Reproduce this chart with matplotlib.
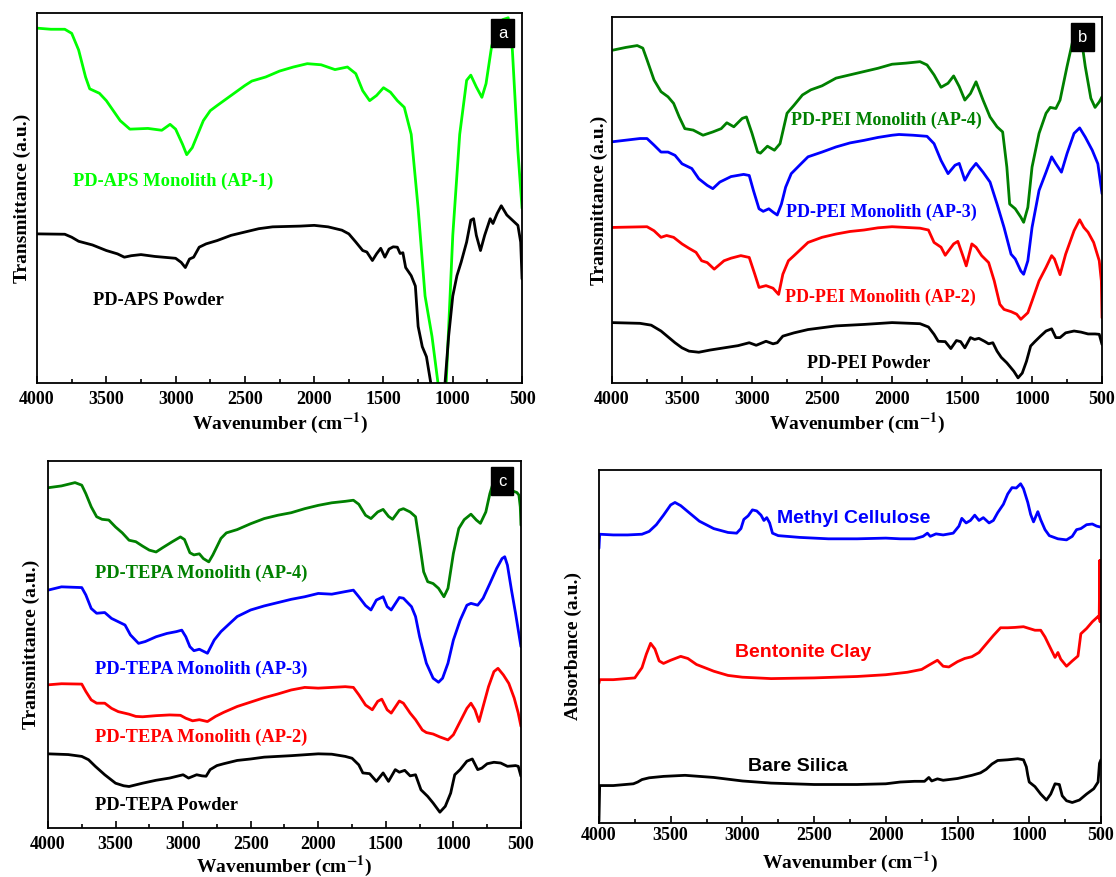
import matplotlib.pyplot as plt
from matplotlib.ticker import MultipleLocator

plt.rcParams['font.family'] = ['Liberation Serif', 'DejaVu Serif']
plt.rcParams['font.weight'] = 'bold'
plt.rcParams['mathtext.fontset'] = 'stix'
plt.rcParams['axes.linewidth'] = 1.3

# ---- panel a : PD-APS ----
a_mono_x = [4000, 3900, 3800, 3750, 3700, 3650, 3620, 3550, 3500, 3400, 3330, 3200, 3100, 3040,
            3000, 2950, 2920, 2880, 2800, 2750, 2700, 2600, 2500, 2450, 2350, 2250, 2150, 2050,
            1950, 1850, 1760, 1700, 1650, 1600, 1550, 1500, 1450, 1400, 1350, 1300, 1250, 1200,
            1150, 1100, 1080, 1050, 1000, 950, 900, 870, 830, 790, 760, 720, 680, 640, 600, 570,
            530, 500]
a_mono_y = [95.9, 95.6, 95.6, 94.5, 90.0, 82.7, 79.5, 78.3, 76.3, 70.9, 68.6, 68.8, 68.3, 69.9,
            68.6, 64.5, 61.7, 63.6, 70.9, 73.6, 75.0, 77.7, 80.4, 81.6, 82.7, 84.3, 85.4, 86.3,
            86.0, 84.7, 85.4, 83.6, 79.0, 76.3, 77.7, 79.8, 78.6, 76.3, 74.5, 67.2, 47.2, 23.5,
            12.6, -2, -8, -2, 39.9, 67.2, 81.8, 83.2, 80.0, 77.2, 80.9, 90.9, 96.4, 98.2, 98.7, 90.0,
            62.7, 47.2]
a_pow_x = [4000, 3800, 3750, 3700, 3600, 3500, 3420, 3370, 3320, 3250, 3150, 3000, 2960, 2930,
           2900, 2870, 2830, 2780, 2700, 2600, 2500, 2400, 2300, 2100, 2000, 1900, 1800, 1750,
           1700, 1650, 1620, 1580, 1550, 1520, 1490, 1460, 1430, 1400, 1380, 1360, 1340, 1300,
           1270, 1250, 1220, 1190, 1150, 1100, 1060, 1030, 1000, 970, 940, 900, 870, 850, 830,
           800, 770, 730, 710, 680, 650, 610, 570, 530, 510, 500]
a_pow_y = [40.3, 40.2, 39.4, 38.3, 37.3, 35.8, 34.9, 34.0, 34.4, 34.7, 34.2, 33.7, 32.6, 31.2,
           33.5, 34.0, 36.7, 37.6, 38.5, 39.9, 40.8, 41.7, 42.2, 42.4, 42.6, 42.2, 41.3, 40.3,
           38.1, 35.8, 35.4, 33.1, 34.9, 36.4, 34.0, 36.2, 36.8, 36.7, 35.0, 35.2, 31.2, 29.0,
           26.2, 15.3, 9.8, 7.1, -2, -10, -2, 12.6, 23.5, 29.0, 32.6, 38.1, 44.0, 44.4, 39.9,
           35.8, 39.9, 44.4, 43.1, 45.8, 47.9, 45.4, 44.0, 42.6, 38.1, 28.1]

# ---- panel b : PD-PEI ----
b4_x = [4000, 3900, 3820, 3780, 3750, 3700, 3650, 3600, 3560, 3520, 3480, 3420, 3350, 3280, 3220,
        3180, 3130, 3070, 3040, 3000, 2960, 2940, 2890, 2840, 2800, 2750, 2700, 2640, 2580, 2500,
        2400, 2300, 2200, 2100, 2000, 1900, 1800, 1750, 1700, 1650, 1600, 1560, 1520, 1480, 1440,
        1400, 1350, 1300, 1250, 1210, 1180, 1160, 1120, 1080, 1060, 1030, 1000, 950, 900, 870,
        830, 800, 750, 700, 680, 650, 620, 580, 550, 520, 500]
b4_y = [90.9, 91.7, 92.2, 91.5, 88.3, 82.8, 79.6, 78.2, 76.4, 72.7, 69.5, 69.1, 67.7, 68.6, 69.5,
        71.1, 70.0, 72.3, 72.7, 68.2, 63.1, 62.8, 64.7, 63.6, 65.4, 73.7, 75.9, 78.7, 80.1, 81.2,
        83.3, 84.2, 85.1, 86.0, 87.1, 87.4, 87.8, 86.9, 84.2, 80.8, 81.9, 83.9, 81.0, 77.3, 79.1,
        82.3, 77.3, 72.7, 70.0, 68.6, 59.0, 48.9, 47.6, 45.3, 43.9, 48.0, 59.0, 68.2, 73.7, 75.3,
        75.0, 77.3, 86.5, 95.1, 96.1, 94.7, 86.5, 77.8, 75.3, 76.8, 78.2]
b3_x = [4000, 3800, 3750, 3700, 3650, 3600, 3550, 3500, 3430, 3380, 3320, 3280, 3230, 3150, 3060,
        3020, 2990, 2950, 2920, 2880, 2850, 2820, 2790, 2760, 2720, 2650, 2600, 2500, 2400, 2300,
        2200, 2100, 2000, 1950, 1850, 1750, 1700, 1650, 1600, 1550, 1520, 1480, 1440, 1400, 1350,
        1300, 1250, 1200, 1150, 1120, 1080, 1060, 1030, 1000, 950, 900, 860, 830, 790, 750, 700,
        660, 620, 570, 530, 500]
b3_y = [65.9, 66.8, 66.8, 65.0, 63.1, 63.1, 62.2, 59.9, 58.6, 55.8, 54.0, 53.1, 54.9, 56.4, 57.0,
        56.7, 52.6, 47.6, 46.9, 47.6, 46.7, 45.9, 48.9, 53.5, 57.2, 59.9, 61.8, 63.1, 64.5, 65.6,
        66.3, 67.1, 67.7, 67.9, 67.7, 67.4, 65.4, 60.8, 57.2, 59.5, 60.0, 55.4, 58.1, 60.0, 57.6,
        54.9, 48.9, 42.5, 35.2, 33.9, 30.6, 29.7, 33.4, 42.5, 52.6, 57.6, 61.8, 59.9, 57.6, 62.7,
        68.2, 69.7, 67.2, 63.6, 59.9, 51.7]
b2_x = [4000, 3750, 3700, 3650, 3610, 3560, 3500, 3450, 3400, 3360, 3320, 3270, 3200, 3150, 3080,
        3020, 2980, 2950, 2900, 2850, 2810, 2780, 2740, 2700, 2600, 2500, 2400, 2300, 2200, 2100,
        2000, 1900, 1800, 1740, 1700, 1650, 1620, 1560, 1530, 1490, 1470, 1430, 1400, 1360, 1310,
        1270, 1230, 1200, 1150, 1110, 1080, 1030, 1000, 950, 900, 860, 840, 800, 760, 700, 660,
        630, 600, 560, 520, 505, 500]
b2_y = [42.5, 42.7, 41.6, 39.8, 40.3, 39.8, 38.0, 36.8, 35.7, 33.4, 32.9, 31.1, 33.4, 34.1, 34.8,
        34.3, 29.7, 26.1, 26.6, 25.9, 24.2, 29.7, 33.4, 34.8, 38.4, 39.8, 40.7, 41.4, 41.8, 42.4,
        42.7, 42.5, 42.3, 41.8, 38.4, 37.1, 34.9, 38.0, 38.7, 34.3, 32.0, 38.0, 37.1, 34.8, 32.9,
        27.9, 21.5, 20.1, 19.5, 18.8, 17.4, 19.2, 22.4, 27.9, 31.6, 34.8, 33.9, 29.6, 35.2, 41.6,
        44.6, 42.5, 41.2, 38.4, 33.4, 27.9, 17.8]
b_pow_x = [4000, 3800, 3720, 3650, 3550, 3500, 3450, 3380, 3300, 3200, 3100, 3020, 2970, 2900,
           2850, 2820, 2780, 2700, 2600, 2400, 2200, 2000, 1800, 1740, 1700, 1670, 1620, 1580,
           1540, 1510, 1480, 1440, 1410, 1380, 1340, 1310, 1280, 1250, 1220, 1180, 1130, 1100,
           1070, 1040, 1010, 980, 940, 900, 860, 830, 800, 760, 700, 650, 600, 550, 520, 500]
b_pow_y = [16.5, 16.3, 15.8, 14.2, 11.0, 9.6, 8.7, 8.4, 9.0, 9.6, 10.2, 11.0, 10.3, 11.4,
           10.7, 11.0, 12.8, 13.7, 14.6, 15.6, 16.0, 16.5, 16.2, 15.3, 13.3, 11.4, 11.3, 9.4,
           11.6, 11.3, 9.6, 12.4, 11.9, 12.2, 11.4, 10.7, 11.0, 8.7, 7.0, 5.5, 3.2, 1.4,
           2.7, 5.9, 10.1, 11.3, 12.8, 14.2, 14.8, 12.4, 12.4, 13.7, 14.2, 13.9, 13.4, 13.4, 13.3, 10.5]

# ---- panel c : PD-TEPA ----
c4_x = [4000, 3900, 3800, 3750, 3720, 3680, 3640, 3600, 3550, 3500, 3450, 3400, 3350, 3300, 3250,
        3200, 3150, 3080, 3020, 2990, 2950, 2920, 2880, 2850, 2810, 2780, 2720, 2680, 2600, 2500,
        2400, 2300, 2200, 2100, 2000, 1900, 1800, 1740, 1700, 1650, 1610, 1560, 1520, 1480, 1450,
        1400, 1370, 1320, 1280, 1250, 1220, 1190, 1150, 1110, 1070, 1040, 1000, 960, 920, 870,
        830, 800, 760, 730, 700, 650, 600, 560, 530, 515, 505, 500]
c4_y = [92.7, 93.2, 94.1, 93.4, 91.1, 87.5, 84.8, 84.1, 83.9, 82.0, 80.4, 78.4, 78.0, 76.8, 75.7,
        75.2, 76.4, 78.0, 79.3, 78.6, 75.0, 74.4, 74.7, 73.4, 72.5, 74.4, 78.9, 80.4, 81.3, 82.9,
        84.3, 85.2, 85.9, 87.0, 87.9, 88.6, 89.0, 89.3, 88.2, 85.2, 84.3, 86.1, 86.8, 84.9, 84.1,
        86.6, 87.0, 86.1, 84.8, 77.5, 69.8, 67.1, 66.6, 65.3, 63.0, 65.3, 74.8, 81.6, 84.0, 85.5,
        83.9, 83.0, 86.1, 91.1, 94.7, 97.0, 94.7, 91.8, 91.4, 90.7, 87.5, 82.5]
c3_x = [4000, 3900, 3750, 3720, 3680, 3640, 3580, 3530, 3480, 3430, 3390, 3330, 3280, 3200, 3120,
        3050, 3010, 2980, 2950, 2920, 2880, 2820, 2770, 2720, 2650, 2600, 2500, 2400, 2300, 2200,
        2100, 2000, 1900, 1800, 1740, 1700, 1650, 1610, 1570, 1520, 1490, 1460, 1400, 1370, 1310,
        1280, 1250, 1200, 1150, 1110, 1080, 1040, 1000, 950, 900, 870, 820, 780, 730, 680, 640,
        620, 600, 570, 540, 500]
c3_y = [64.8, 65.7, 65.5, 63.5, 59.8, 58.5, 58.7, 57.1, 56.2, 55.3, 52.6, 50.3, 50.8, 52.1, 53.0,
        53.5, 53.9, 52.1, 49.4, 48.3, 48.7, 47.6, 51.2, 53.5, 55.9, 57.6, 59.4, 60.5, 61.4, 62.3,
        63.0, 63.9, 63.7, 64.4, 64.8, 63.0, 60.6, 59.4, 62.1, 63.0, 60.3, 59.4, 62.8, 62.6, 60.3,
        57.6, 52.1, 44.9, 40.8, 39.7, 40.8, 44.9, 51.2, 56.6, 60.7, 61.2, 60.7, 62.6, 66.6, 70.7,
        73.4, 73.9, 71.6, 64.8, 58.5, 49.4]
c2_x = [4000, 3900, 3750, 3720, 3680, 3640, 3580, 3530, 3480, 3400, 3350, 3300, 3200, 3100, 3020,
        2980, 2930, 2880, 2820, 2760, 2700, 2600, 2500, 2400, 2300, 2200, 2100, 2000, 1900, 1800,
        1740, 1700, 1650, 1600, 1560, 1530, 1490, 1460, 1400, 1370, 1320, 1280, 1230, 1200, 1150,
        1100, 1040, 1000, 950, 900, 870, 840, 810, 780, 740, 700, 670, 630, 590, 550, 520, 500]
c2_y = [39.0, 39.3, 39.2, 37.2, 34.9, 34.0, 34.0, 32.6, 31.7, 31.0, 30.4, 30.3, 30.6, 30.8, 30.7,
        29.9, 29.2, 29.5, 29.0, 30.4, 31.5, 33.1, 34.3, 35.5, 36.5, 37.6, 38.3, 38.1, 38.3, 38.5,
        38.3, 36.3, 33.5, 32.2, 34.5, 35.1, 32.2, 31.3, 34.6, 34.0, 31.3, 29.5, 26.7, 26.0, 25.6,
        24.8, 24.0, 25.4, 29.0, 32.6, 34.0, 32.2, 29.0, 33.1, 38.5, 42.6, 43.5, 41.7, 39.4, 35.4,
        31.3, 27.7]
c_pow_x = [4000, 3850, 3750, 3700, 3650, 3580, 3500, 3440, 3400, 3300, 3200, 3100, 3000, 2960,
           2900, 2860, 2830, 2800, 2750, 2700, 2600, 2500, 2400, 2200, 2000, 1900, 1800, 1750,
           1700, 1670, 1620, 1570, 1520, 1480, 1430, 1400, 1360, 1320, 1280, 1240, 1190, 1150,
           1100, 1060, 1020, 990, 950, 900, 860, 820, 790, 750, 700, 650, 600, 540, 520, 500]
c_pow_y = [20.2, 20.0, 19.5, 18.6, 16.8, 14.5, 12.2, 11.5, 11.3, 12.2, 13.0, 13.6, 14.5, 13.6,
           14.5, 14.2, 14.1, 15.9, 17.0, 17.5, 18.4, 18.8, 19.3, 19.7, 20.2, 20.1, 19.5, 19.0,
           17.2, 15.0, 14.8, 12.7, 15.0, 12.7, 15.9, 15.2, 15.7, 14.2, 14.5, 10.4, 8.6, 6.8,
           4.3, 5.9, 9.5, 14.5, 15.9, 18.2, 18.8, 15.9, 16.3, 17.5, 17.9, 17.7, 16.8, 17.0, 16.8, 14.1]

# ---- panel d : raw materials ----
mc_x = [4000, 3995, 3900, 3800, 3700, 3650, 3600, 3550, 3500, 3470, 3430, 3380, 3300, 3200, 3100,
        3040, 3010, 2990, 2960, 2930, 2900, 2870, 2850, 2830, 2810, 2790, 2750, 2600, 2400, 2200,
        2000, 1900, 1800, 1740, 1710, 1690, 1650, 1600, 1530, 1490, 1470, 1440, 1410, 1380, 1350,
        1320, 1280, 1250, 1220, 1180, 1150, 1120, 1090, 1060, 1040, 1010, 990, 970, 940, 920,
        890, 860, 800, 740, 700, 670, 640, 600, 560, 530, 500]
mc_y = [77.8, 81.8, 81.6, 81.6, 81.8, 82.6, 84.5, 87.2, 90.1, 90.8, 89.9, 88.2, 85.5, 83.4, 82.3,
        82.1, 83.4, 86.0, 87.0, 88.7, 88.4, 87.2, 85.7, 86.5, 85.0, 82.1, 81.4, 80.9, 80.5, 80.5,
        80.7, 80.5, 80.5, 81.2, 82.1, 81.2, 81.9, 81.6, 82.1, 84.1, 86.3, 85.0, 85.7, 87.2, 85.7,
        86.5, 85.0, 85.7, 87.9, 90.3, 93.2, 95.0, 94.9, 96.1, 94.7, 90.8, 87.4, 85.3, 88.2, 85.9,
        83.1, 81.4, 80.5, 80.2, 81.2, 83.1, 83.4, 84.5, 84.7, 84.1, 83.8]
bc_x = [4000, 3995, 3900, 3750, 3700, 3670, 3640, 3610, 3580, 3550, 3500, 3430, 3380, 3320, 3250,
        3200, 3100, 3000, 2800, 2500, 2200, 2000, 1850, 1750, 1700, 1640, 1600, 1560, 1500, 1450,
        1400, 1350, 1300, 1250, 1200, 1150, 1100, 1040, 1000, 960, 920, 890, 860, 820, 800, 780,
        740, 700, 660, 640, 600, 560, 520, 512, 508, 506, 504, 502, 500]
bc_y = [39.6, 40.6, 40.6, 41.1, 44.0, 47.8, 50.9, 49.3, 45.9, 45.2, 46.1, 47.2, 46.6, 44.9, 43.8,
        43.0, 41.8, 41.3, 40.9, 41.1, 41.5, 42.0, 42.7, 43.5, 44.7, 46.1, 44.4, 44.2, 45.7, 46.6,
        47.1, 48.3, 50.7, 53.1, 55.3, 55.3, 55.4, 55.6, 55.1, 54.6, 54.6, 52.7, 50.2, 46.9, 48.3, 46.4,
        44.4, 45.9, 47.3, 53.6, 55.1, 57.0, 58.5, 58.0, 74.4, 57.0, 74.4, 58.0, 74.4]
bs_x = [4000, 3995, 3900, 3760, 3730, 3700, 3650, 3550, 3400, 3300, 3200, 3000, 2800, 2500, 2200,
        2000, 1900, 1800, 1730, 1700, 1680, 1640, 1600, 1500, 1400, 1340, 1300, 1260, 1220, 1150,
        1080, 1040, 1020, 1010, 1000, 960, 920, 880, 850, 820, 790, 770, 740, 700, 650, 600, 550,
        520, 510, 500]
bs_y = [0.5, 10.6, 10.6, 11.1, 11.6, 12.3, 12.8, 13.2, 13.5, 13.2, 12.9, 11.9, 11.3, 10.9, 10.9,
        11.1, 11.6, 11.8, 11.8, 12.9, 11.9, 12.5, 12.1, 12.6, 13.5, 14.2, 15.2, 16.7, 17.7, 17.9,
        18.2, 17.9, 15.9, 13.5, 11.6, 10.3, 8.2, 6.5, 8.2, 11.1, 10.9, 7.7, 6.3, 5.8, 6.5, 8.2, 9.7,
        11.6, 16.9, 17.9]

LW = 2.0
GREEN = '#008000'
LIME = '#00ff00'


def line(ax, x, y, c):
    ax.plot(x, y, color=c, lw=LW, solid_joinstyle='round', solid_capstyle='round')


def setup(ax, ylabel, tag=None, tickpad=6, xpad=2, ypad=4):
    ax.set_xlim(4000, 500)
    ax.set_ylim(0, 100)
    ax.set_yticks([])
    ax.xaxis.set_major_locator(MultipleLocator(500))
    ax.xaxis.set_minor_locator(MultipleLocator(250))
    ax.tick_params(axis='x', which='major', direction='in', length=5, width=1.2,
                   labelsize=13, pad=tickpad)
    ax.tick_params(axis='x', which='minor', direction='in', length=3, width=1.2)
    for lab in ax.get_xticklabels():
        lab.set_fontweight('bold')
    ax.set_xlabel(r'Wavenumber (cm$^{\mathbf{-1}}$)', fontsize=14, fontweight='bold',
                  labelpad=xpad)
    ax.set_ylabel(ylabel, fontsize=14, fontweight='bold', labelpad=ypad)
    if tag:
        ax.text(0.96, 0.945, tag, transform=ax.transAxes, color='white', fontsize=12,
                family=['Liberation Sans'], fontweight='normal', ha='center', va='center',
                bbox=dict(boxstyle='square,pad=0.4', fc='black', ec='black'))


fig = plt.figure(figsize=(11.16, 8.77), dpi=100)
ax_a = fig.add_axes([0.0332, 0.5633, 0.4346, 0.4219])
ax_b = fig.add_axes([0.5484, 0.5633, 0.4391, 0.4173])
ax_c = fig.add_axes([0.0430, 0.0559, 0.4238, 0.4185])
ax_d = fig.add_axes([0.5367, 0.0616, 0.4498, 0.4025])

# a
line(ax_a, a_mono_x, a_mono_y, LIME)
line(ax_a, a_pow_x, a_pow_y, 'black')
ax_a.text(3742, 54.5, 'PD-APS Monolith (AP-1)', color=LIME, fontsize=13.3, va='center')
ax_a.text(3595, 22.3, 'PD-APS Powder', color='black', fontsize=13.3, va='center')
setup(ax_a, 'Transmittance (a.u.)', 'a')

# b
line(ax_b, b4_x, b4_y, GREEN)
line(ax_b, b3_x, b3_y, 'blue')
line(ax_b, b2_x, b2_y, 'red')
line(ax_b, b_pow_x, b_pow_y, 'black')
ax_b.text(2722, 71.8, 'PD-PEI Monolith (AP-4)', color=GREEN, fontsize=13, va='center')
ax_b.text(2757, 46.7, 'PD-PEI Monolith (AP-3)', color='blue', fontsize=13, va='center')
ax_b.text(2765, 23.3, 'PD-PEI Monolith (AP-2)', color='red', fontsize=13, va='center')
ax_b.text(2605, 5.3, 'PD-PEI Powder', color='black', fontsize=13, va='center')
setup(ax_b, 'Transmittance (a.u.)', 'b', ypad=3)

# c
line(ax_c, c4_x, c4_y, GREEN)
line(ax_c, c3_x, c3_y, 'blue')
line(ax_c, c2_x, c2_y, 'red')
line(ax_c, c_pow_x, c_pow_y, 'black')
ax_c.text(3654, 69.4, 'PD-TEPA Monolith (AP-4)', color=GREEN, fontsize=13.3, va='center')
ax_c.text(3654, 43.1, 'PD-TEPA Monolith (AP-3)', color='blue', fontsize=13.3, va='center')
ax_c.text(3654, 24.7, 'PD-TEPA Monolith (AP-2)', color='red', fontsize=13.3, va='center')
ax_c.text(3650, 6.1, 'PD-TEPA Powder', color='black', fontsize=13.3, va='center')
setup(ax_c, 'Transmittance (a.u.)', 'c', xpad=0, ypad=6)

# d
line(ax_d, mc_x, mc_y, 'blue')
line(ax_d, bc_x, bc_y, 'red')
line(ax_d, bs_x, bs_y, 'black')
ax_d.text(2761, 86.3, 'Methyl Cellulose', color='blue', fontsize=14, va='center',
          family=['Liberation Sans'])
ax_d.text(3053, 48.3, 'Bentonite Clay', color='red', fontsize=14, va='center',
          family=['Liberation Sans'])
ax_d.text(2961, 15.9, 'Bare Silica', color='black', fontsize=14, va='center',
          family=['Liberation Sans'])
setup(ax_d, 'Absorbance (a.u.)', tickpad=3, xpad=4, ypad=12)

fig.savefig('out.png', dpi=100)
